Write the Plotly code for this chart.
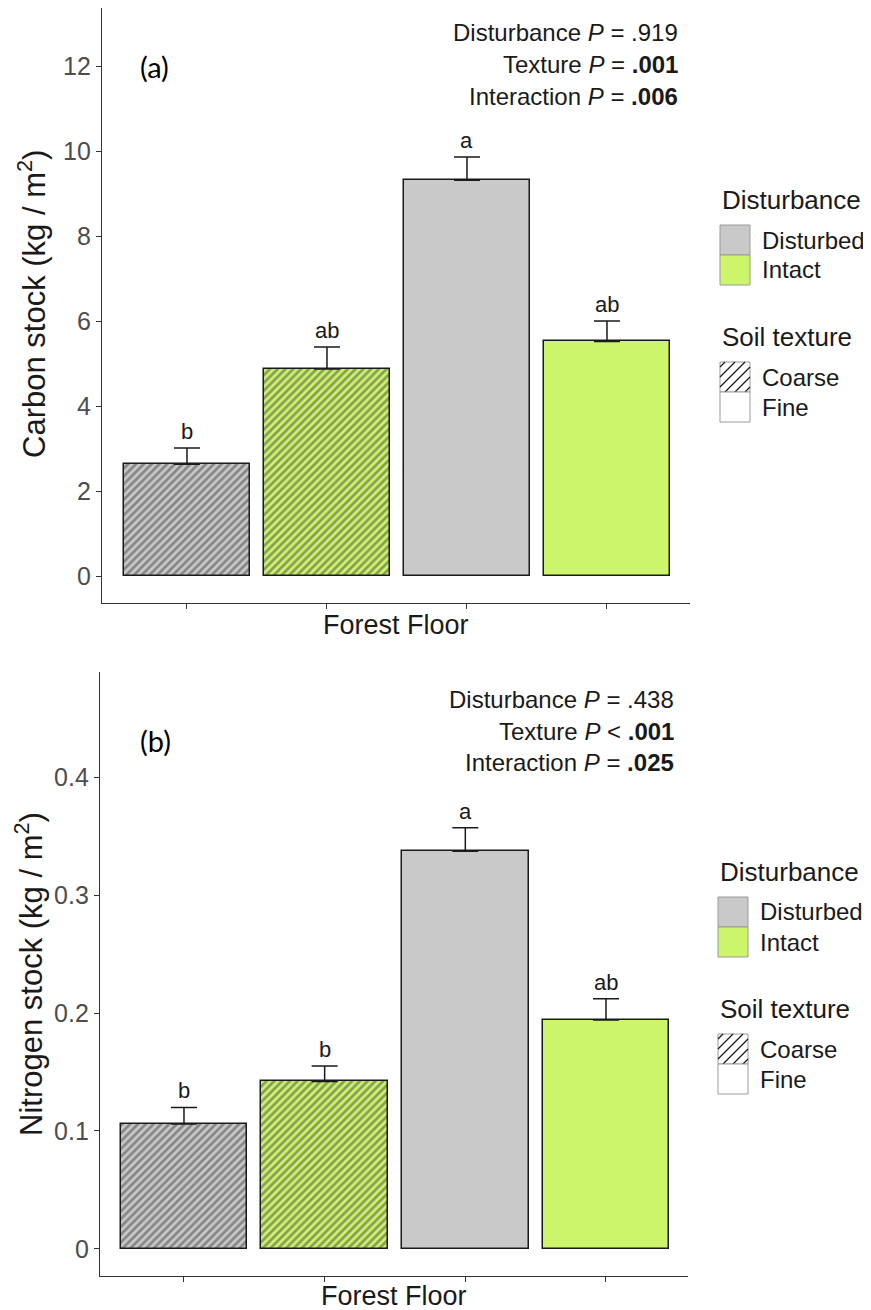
import plotly.graph_objects as go

# ---------------- data ----------------
categories = ["Disturbed, Coarse", "Intact, Coarse", "Disturbed, Fine", "Intact, Fine"]
disturbance = ["Disturbed", "Intact", "Disturbed", "Intact"]
texture = ["Coarse", "Coarse", "Fine", "Fine"]

carbon_mean = [2.63, 4.87, 9.31, 5.52]
carbon_se = [0.38, 0.52, 0.55, 0.48]
carbon_letters = ["b", "ab", "a", "ab"]

nitrogen_mean = [0.106, 0.142, 0.337, 0.194]
nitrogen_se = [0.014, 0.013, 0.020, 0.018]
nitrogen_letters = ["b", "b", "a", "ab"]

carbon_ticks = [0, 2, 4, 6, 8, 10, 12]
nitrogen_ticks = [0, 0.1, 0.2, 0.3, 0.4]
nitrogen_ticktext = ["0", "0.1", "0.2", "0.3", "0.4"]

carbon_stats = ["Disturbance <i>P</i> = .919",
                "Texture <i>P</i> = <b>.001</b>",
                "Interaction <i>P</i> = <b>.006</b>"]
nitrogen_stats = ["Disturbance <i>P</i> = .438",
                  "Texture <i>P</i> &lt; <b>.001</b>",
                  "Interaction <i>P</i> = <b>.025</b>"]

# ---------------- style ----------------
W, H = 871, 1310
OFF = 8  # page body margin
FONT = "Liberation Sans, Arial, sans-serif"
fill_colors = {"Disturbed": "#C9C9C9", "Intact": "#CCF56C"}
pattern_shapes = {"Coarse": "/", "Fine": ""}
DARK = "#1a1a1a"


def px(x):
    return (x - OFF) / W


def py(y):
    return 1 - (y - OFF) / H


colors = [fill_colors[d] for d in disturbance]
shapes_pat = [pattern_shapes[t] for t in texture]

fig = go.Figure()
ann = []

panels = [
    dict(mean=carbon_mean, se=carbon_se, letters=carbon_letters, xa="x", ya="y"),
    dict(mean=nitrogen_mean, se=nitrogen_se, letters=nitrogen_letters, xa="x2", ya="y2"),
]

for p in panels:
    fig.add_trace(go.Bar(
        x=categories, y=p["mean"], width=0.9,
        xaxis=p["xa"], yaxis=p["ya"],
        marker=dict(
            color=colors,
            line=dict(color=DARK, width=1.5),
            pattern=dict(shape=shapes_pat, fillmode="overlay", bgcolor=colors,
                         fgcolor="#000000", size=5.5, solidity=0.5),
        ),
        error_y=dict(type="data", symmetric=False, array=p["se"],
                     arrayminus=[0] * len(p["se"]), color=DARK,
                     thickness=1.5, width=13),
        showlegend=False, hoverinfo="skip",
    ))
    for c, m, s, L in zip(categories, p["mean"], p["se"], p["letters"]):
        ann.append(dict(x=c, y=m + s, xref=p["xa"], yref=p["ya"], text=L,
                        showarrow=False, yanchor="bottom", yshift=2,
                        font=dict(family=FONT, size=22, color=DARK)))

axis_common = dict(showline=True, linecolor="#333333", linewidth=1.4,
                   ticks="outside", ticklen=5, tickcolor="#333333", tickwidth=1.4,
                   showgrid=False, zeroline=False,
                   tickfont=dict(family=FONT, size=25, color="#4D4D4D"))

fig.update_layout(
    width=W, height=H,
    margin=dict(l=0, r=0, t=0, b=0),
    plot_bgcolor="white", paper_bgcolor="white",
    bargap=0,
    xaxis=dict(domain=[px(102), px(690)], range=[-0.607, 3.593],
               showticklabels=False, anchor="y", **axis_common),
    yaxis=dict(domain=[py(603), py(8)], range=[-0.635, 13.365],
               tickvals=carbon_ticks, anchor="x", **axis_common),
    xaxis2=dict(domain=[px(100), px(688)], range=[-0.597, 3.583],
                showticklabels=False, anchor="y2", **axis_common),
    yaxis2=dict(domain=[py(1276), py(672)], range=[-0.0229, 0.489],
                tickvals=nitrogen_ticks, ticktext=nitrogen_ticktext,
                anchor="x2", **axis_common),
)


def text(x, y, t, size, xanchor="center", yanchor="middle", angle=0,
         family=FONT, color=DARK, align="left"):
    ann.append(dict(x=px(x), y=py(y), xref="paper", yref="paper", text=t,
                    showarrow=False, xanchor=xanchor, yanchor=yanchor,
                    textangle=angle, align=align,
                    font=dict(family=family, size=size, color=color)))


# axis titles
text(32, 304, "Carbon stock (kg / m<sup>2</sup>)", 31, angle=-90)
text(29, 974, "Nitrogen stock (kg / m<sup>2</sup>)", 31, angle=-90)
text(396, 625, "Forest Floor", 27)
text(394, 1296, "Forest Floor", 27)

# panel labels
text(154, 66, "(a)", 29, family="Lato, Open Sans, sans-serif", color="black")
text(155, 740, "(b)", 29, family="Lato, Open Sans, sans-serif", color="black")

# statistics
for i, t in enumerate(carbon_stats):
    text(680, 33 + 32 * i, t, 24, xanchor="right", align="right")
for i, t in enumerate(nitrogen_stats):
    text(676, 700 + 31 * i, t, 24, xanchor="right", align="right")

shp = []


def rect(x0, y0, x1, y1, fill):
    shp.append(dict(type="rect", xref="paper", yref="paper",
                    x0=px(x0), x1=px(x1), y0=py(y1), y1=py(y0),
                    fillcolor=fill, line=dict(color="#9A9A9A", width=1)))


def hatch(x0, y0, x1, y1, step=10.0):
    c = x0 + y0 + step / 2
    while c < x1 + y1:
        xa = max(x0, c - y1)
        xb = min(x1, c - y0)
        if xb > xa:
            shp.append(dict(type="line", xref="paper", yref="paper",
                            x0=px(xa), y0=py(c - xa), x1=px(xb), y1=py(c - xb),
                            line=dict(color=DARK, width=1.3)))
        c += step


def legend(bx, base):
    text(bx, base, "Disturbance", 26, xanchor="left")
    kw = 30
    for i, d in enumerate(["Disturbed", "Intact"]):
        y0 = base + 25 + i * 30
        rect(bx, y0, bx + kw, y0 + 30, fill_colors[d])
        text(bx + 40, y0 + 15, d, 24, xanchor="left")
    tb = base + 137
    text(bx, tb, "Soil texture", 26, xanchor="left")
    for i, t in enumerate(["Coarse", "Fine"]):
        y0 = tb + 25 + i * 30
        rect(bx, y0, bx + kw, y0 + 30, "white")
        if pattern_shapes[t]:
            hatch(bx, y0, bx + kw, y0 + 30)
        text(bx + 40, y0 + 15, t, 24, xanchor="left")


legend(720, 200)
legend(718, 872)

fig.layout.annotations = ann
fig.layout.shapes = shp

fig.write_html("out.html")
